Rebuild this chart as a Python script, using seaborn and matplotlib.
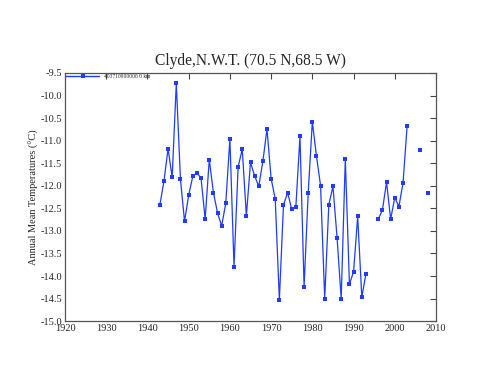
import matplotlib
matplotlib.use("Agg")
import matplotlib.pyplot as plt
import seaborn as sns
import numpy as np
import pandas as pd
from matplotlib.lines import Line2D

years = list(range(1943, 1994)) + list(range(1996, 2004)) + [2006, 2008]
temps = [-12.43, -11.90, -11.18, -11.81, -9.73, -11.85, -12.79, -12.21, -11.79, -11.71,
         -11.83, -12.74, -11.42, -12.15, -12.60, -12.89, -12.39, -10.96, -13.79, -11.58,
         -11.19, -12.67, -11.48, -11.78, -12.01, -11.46, -10.74, -11.84, -12.29, -14.53,
         -12.43, -12.15, -12.52, -12.47, -10.90, -14.24, -12.15, -10.58, -11.34, -12.00,
         -14.50, -12.42, -12.01, -13.15, -14.50, -11.40, -14.18, -13.91, -12.68, -14.47,
         -13.95,
         -12.74, -12.54, -11.92, -12.74, -12.26, -12.46, -11.94, -10.67,
         -11.21, -12.15]
segments = [0] * 51 + [1] * 8 + [2] + [3]

title = "Clyde,N.W.T. (70.5 N,68.5 W)"
ylabel = "Annual Mean Temperatures (\u00b0C)"
legend_label = "403710900006 0 km"
xticks = list(range(1920, 2011, 10))
yticks = [-9.5 - 0.5 * i for i in range(12)]

df = pd.DataFrame({"year": years, "temp": temps, "seg": segments})

sns.set_style("white")
plt.rcParams["font.family"] = ["Liberation Serif", "DejaVu Serif"]

fig = plt.figure(figsize=(5.0, 3.86), dpi=100)
ax = fig.add_axes([0.13, 0.168, 0.742, 0.643])

color = "#1f3cff"
sns.lineplot(data=df, x="year", y="temp", units="seg", estimator=None,
             color=color, marker="s", markersize=3.5, markeredgewidth=0,
             linewidth=0.9, ax=ax, legend=False)

ax.set_xlim(1920, 2010)
ax.set_ylim(-15.0, -9.5)
ax.set_xticks(xticks)
ax.set_xticklabels([str(t) for t in xticks])
ax.set_yticks(yticks)
ax.set_yticklabels([f"{t:.1f}" for t in yticks])
ax.tick_params(axis="both", direction="in", labelsize=7.5, length=4, width=0.8,
               color="#444444", top=True, right=True, pad=2)
for s in ax.spines.values():
    s.set_color("#555555")
    s.set_linewidth(0.9)
ax.set_xlabel("")
ax.set_ylabel(ylabel, fontsize=7.5, labelpad=1)
fig.text(0.5, 0.843, title, ha="center", va="center", fontsize=11.2)

h = Line2D([], [], color=color, marker="s", markersize=3, linewidth=1.0, markeredgewidth=0)
ax.legend([h], [legend_label], loc="upper left", frameon=False, fontsize=4,
          handlelength=6, borderaxespad=0.1, borderpad=0.1)

fig.savefig("out.png", dpi=100)
